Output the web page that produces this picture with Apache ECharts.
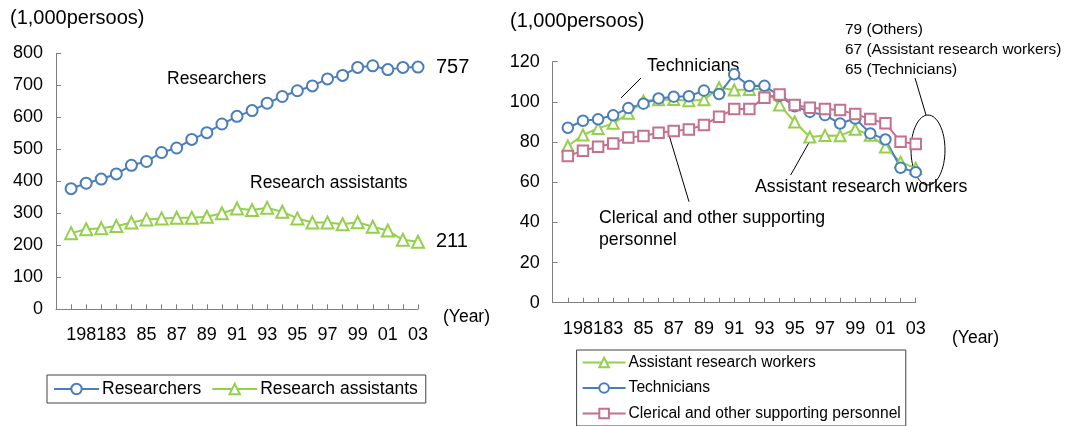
<!DOCTYPE html>
<html>
<head>
<meta charset="utf-8">
<script src="https://cdn.jsdelivr.net/npm/echarts@6/dist/echarts.min.js"></script>
<style>
  html, body { margin: 0; padding: 0; background: #fff; }
  #chart { width: 1069px; height: 426px; }
</style>
</head>
<body>
<div id="chart"></div>
<script>
const years = [1980, 1981, 1982, 1983, 1984, 1985, 1986, 1987, 1988, 1989, 1990, 1991,
  1992, 1993, 1994, 1995, 1996, 1997, 1998, 1999, 2000, 2001, 2002, 2003];

// left chart
const researchers = [377, 394, 407, 423, 450, 462, 490, 504, 531, 552, 579, 603,
  621, 644, 665, 683, 698, 720, 731, 756, 761, 749, 756, 757];
const researchAssistants = [238, 250, 253, 260, 271, 281, 284, 286, 286, 289, 300, 315,
  310, 317, 305, 284, 271, 271, 266, 272, 258, 246, 217, 211];

// right chart
const assistantWorkers = [78, 83.5, 86.8, 89.3, 94.3, 100.5, 101, 101.2, 100.6, 101, 107, 105.9,
  106.2, 106.5, 98.4, 90, 82.5, 83.3, 83.1, 86.4, 83.4, 77.5, 70, 67];
const technicians = [87.1, 90.6, 91.3, 93.3, 96.9, 99.1, 101.7, 102.6, 102.8, 105.6, 103.9, 113.7,
  107.9, 108, 103, 97.8, 95, 93.4, 89.2, 91.7, 84.3, 81.3, 67.2, 65];
const clerical = [73, 75.7, 77.7, 79.3, 82.3, 83, 84.6, 85.5, 86.3, 88.5, 92.6, 96.4,
  96.4, 102.1, 103.7, 98.4, 97.1, 96.4, 95.9, 93.9, 91.5, 89.3, 80.2, 79];

const FONT = '"Liberation Sans", Arial, sans-serif';
const BLUE = '#4a7ebb';
const GREEN = '#94d04c';
const PINK = '#c4708e';
const AXIS = '#7f7f7f';

const pairs = (vals) => vals.map((v, i) => [years[i], v]);

const yearLabel = (v) => {
  if (v === 1981) return '1981';
  if (v < 1981 || v % 2 === 0) return '';
  return String(v).slice(2);
};

const xAxisBase = (gridIndex) => ({
  gridIndex: gridIndex,
  type: 'value',
  min: 1979,
  max: 2003,
  interval: 1,
  axisLine: {lineStyle: {color: AXIS, width: 1}},
  axisTick: {inside: true, length: 5, lineStyle: {color: AXIS}},
  axisLabel: {formatter: yearLabel, color: '#000', fontFamily: FONT, fontSize: 18, margin: 17, showMinLabel: true, showMaxLabel: true},
  splitLine: {show: false}
});

const yAxisBase = (gridIndex, max, interval) => ({
  gridIndex: gridIndex,
  type: 'value',
  min: 0,
  max: max,
  interval: interval,
  axisLine: {show: true, lineStyle: {color: AXIS, width: 1}},
  axisTick: {show: true, inside: true, length: 5, lineStyle: {color: AXIS}},
  axisLabel: {color: '#000', fontFamily: FONT, fontSize: 18, margin: 13},
  splitLine: {show: false}
});

const lineSeries = (name, vals, color, symbol, idx, extra) => Object.assign({
  name: name,
  type: 'line',
  xAxisIndex: idx,
  yAxisIndex: idx,
  data: pairs(vals),
  symbol: symbol,
  symbolSize: 11,
  showAllSymbol: true,
  lineStyle: {color: color, width: 2},
  itemStyle: {color: color, borderColor: color, borderWidth: 2},
  emphasis: {disabled: true},
  animation: false
}, extra || {});

const endLabel = {
  show: true,
  formatter: (p) => String(p.value[1]),
  fontFamily: FONT,
  fontSize: 20,
  color: '#000',
  distance: 18
};

const txt = (text, x, y, size) => ({
  type: 'text',
  x: x,
  y: y,
  style: {text: text, font: size + 'px ' + FONT, fill: '#000', textVerticalAlign: 'middle', verticalAlign: 'middle'}
});

const seg = (x1, y1, x2, y2) => ({
  type: 'line',
  shape: {x1: x1, y1: y1, x2: x2, y2: y2},
  style: {stroke: '#000', lineWidth: 1}
});

const chart = echarts.init(document.getElementById('chart'));

chart.setOption({
  backgroundColor: '#fff',
  animation: false,
  grid: [
    {left: 56, top: 53.3, width: 362, height: 256},
    {left: 552.7, top: 61.7, width: 363, height: 241}
  ],
  xAxis: [xAxisBase(0), xAxisBase(1)],
  yAxis: [yAxisBase(0, 800, 100), yAxisBase(1, 120, 20)],
  legend: [
    {
      data: ['Researchers', 'Research assistants'],
      orient: 'horizontal',
      left: 47,
      top: 375,
      padding: [5, 8, 5, 6],
      itemGap: 10,
      itemWidth: 45,
      itemHeight: 13,
      borderColor: '#404040',
      borderWidth: 1,
      selectedMode: false,
      textStyle: {fontFamily: FONT, fontSize: 17.5, color: '#000', lineHeight: 18, padding: [0, 0, 0, -2]}
    },
    {
      data: ['Assistant research workers', 'Technicians', 'Clerical and other supporting personnel'],
      orient: 'vertical',
      left: 576.6,
      top: 350,
      padding: [3.5, 5, 3.5, 5],
      itemGap: 7.5,
      itemWidth: 43,
      itemHeight: 12,
      borderColor: '#404040',
      borderWidth: 1,
      selectedMode: false,
      textStyle: {fontFamily: FONT, fontSize: 15.6, color: '#000', lineHeight: 18, padding: [0, 0, 0, -2]}
    }
  ],
  series: [
    lineSeries('Researchers', researchers, BLUE, 'emptyCircle', 0, {endLabel: endLabel}),
    lineSeries('Research assistants', researchAssistants, GREEN, 'emptyTriangle', 0, {endLabel: endLabel, symbolSize: 12}),
    lineSeries('Assistant research workers', assistantWorkers, GREEN, 'emptyTriangle', 1, {symbolSize: 11}),
    lineSeries('Technicians', technicians, BLUE, 'emptyCircle', 1, {symbolSize: 10.5}),
    lineSeries('Clerical and other supporting personnel', clerical, PINK, 'emptyRect', 1, {symbolSize: 10.5})
  ],
  graphic: [
    txt('(1,000persoos)', 10, 18.5, 20),
    txt('Researchers', 167, 79, 17.5),
    txt('Research assistants', 250, 183, 17.5),
    txt('(Year)', 443, 317, 17.5),

    txt('(1,000persoos)', 510, 21, 20),
    txt('Technicians', 647, 66, 17.7),
    txt('Clerical and other supporting', 599, 218, 17.7),
    txt('personnel', 599, 240, 17.7),
    txt('Assistant research workers', 755, 187, 17.7),
    txt('79 (Others)', 845, 30, 15.4),
    txt('67 (Assistant research workers)', 845, 50, 15.4),
    txt('65 (Technicians)', 845, 70, 15.4),
    txt('(Year)', 952, 338, 17.5),

    seg(641, 78, 621, 98),
    seg(668, 131.7, 689, 201.7),
    seg(812.7, 136, 790.7, 175),
    seg(915, 78, 926, 115),
    {
      type: 'ellipse',
      shape: {cx: 928, cy: 150, rx: 17, ry: 35},
      style: {stroke: '#000', lineWidth: 1, fill: null}
    }
  ]
});
</script>
</body>
</html>
